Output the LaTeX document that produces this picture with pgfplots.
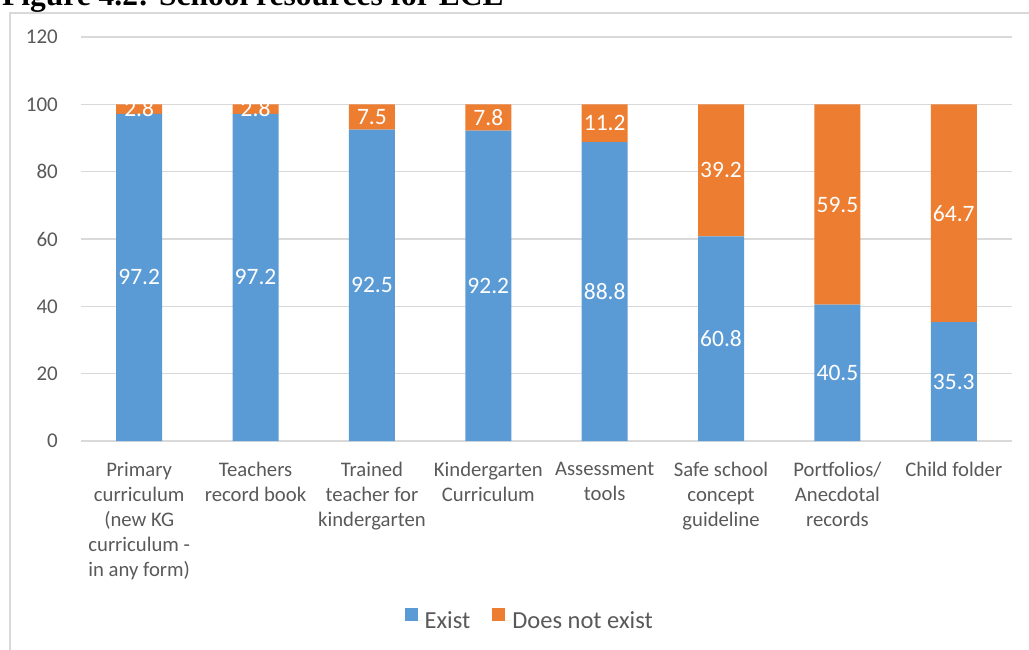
\documentclass[border=0pt]{standalone}
\usepackage{fontspec}
\setmainfont{Carlito}
\newfontfamily\titlefont{Liberation Serif}
\usepackage{pgfplots}
\usepackage{pgfplotstable}
\pgfplotsset{compat=1.18}
\definecolor{cblue}{HTML}{5B9BD5}
\definecolor{corange}{HTML}{ED7D31}
\definecolor{cgrid}{HTML}{D9D9D9}
\definecolor{ctext}{HTML}{595959}
\pgfplotstableread{
x exist notexist
0 97.2 2.8
1 97.2 2.8
2 92.5 7.5
3 92.2 7.8
4 88.8 11.2
5 60.8 39.2
6 40.5 59.5
7 35.3 64.7
}\datatable
\begin{document}
\begin{tikzpicture}
\path[use as bounding box] (0pt,0pt) rectangle (1029pt,649pt);
\begin{scope}
\clip (0pt,0pt) rectangle (1029pt,649pt);
\node[anchor=base west, inner sep=0, font=\titlefont\bfseries\fontsize{31.5}{36}\selectfont] at (2pt,643pt) {Figure 4.2: School resources for ECE};
\draw[cgrid, line width=1.5pt] (10pt,-5pt) -- (10pt,636pt) -- (1040pt,636pt);
\end{scope}
\begin{axis}[
  at={(81pt,208pt)}, anchor=south west,
  scale only axis, width=931pt, height=404pt,
  ybar stacked, bar width=46pt,
  xmin=-0.5, xmax=7.5, ymin=0, ymax=120,
  ytick={0,20,...,120},
  xtick={0,...,7},
  xticklabels={{Primary\\curriculum\\(new KG\\curriculum -\\in any form)},{Teachers\\record book},{Trained\\teacher for\\kindergarten},{Kindergarten\\Curriculum},{Assessment\\tools},{Safe school\\concept\\guideline},{Portfolios/\\Anecdotal\\records},{Child folder}},
  axis line style={draw=none},
  tick style={draw=none},
  ymajorgrids, grid style={cgrid, line width=1.2pt},
  /pgf/number format/assume math mode=true,
  ticklabel style={text=ctext},
  yticklabel style={anchor=east, inner sep=0pt, xshift=-23pt, font=\fontsize{21}{25}\selectfont},
  xticklabel style={align=center, anchor=north, inner sep=0pt, yshift=-21pt, font=\fontsize{20.7}{25}\selectfont},
  legend style={at={(axis description cs:0.482,-0.443)}, anchor=center, draw=none, fill=none,
    font=\fontsize{24.5}{28}\selectfont, text=ctext, legend columns=2,
    /tikz/every even column/.append style={column sep=20pt}},
  nodes near coords={\pgfmathprintnumber[fixed,fixed zerofill,precision=1,assume math mode=true]{\pgfplotspointmeta}},
  point meta=explicit,
  every node near coord/.append style={anchor=center, text=white, font=\fontsize{23.5}{26}\selectfont},
]
\addplot[fill=cblue, draw=none,
  legend image code/.code={\fill[cblue] (0pt,-1pt) rectangle (13pt,12pt); \path (13pt,0pt) -- (18pt,0pt);},
] table[x=x, y=exist, meta=exist] {\datatable};
\addplot[fill=corange, draw=none,
  legend image code/.code={\fill[corange] (0pt,-1pt) rectangle (13pt,12pt); \path (13pt,0pt) -- (18pt,0pt);},
] table[x=x, y=notexist, meta=notexist] {\datatable};
\legend{Exist, Does not exist}
\end{axis}
\end{tikzpicture}
\end{document}
